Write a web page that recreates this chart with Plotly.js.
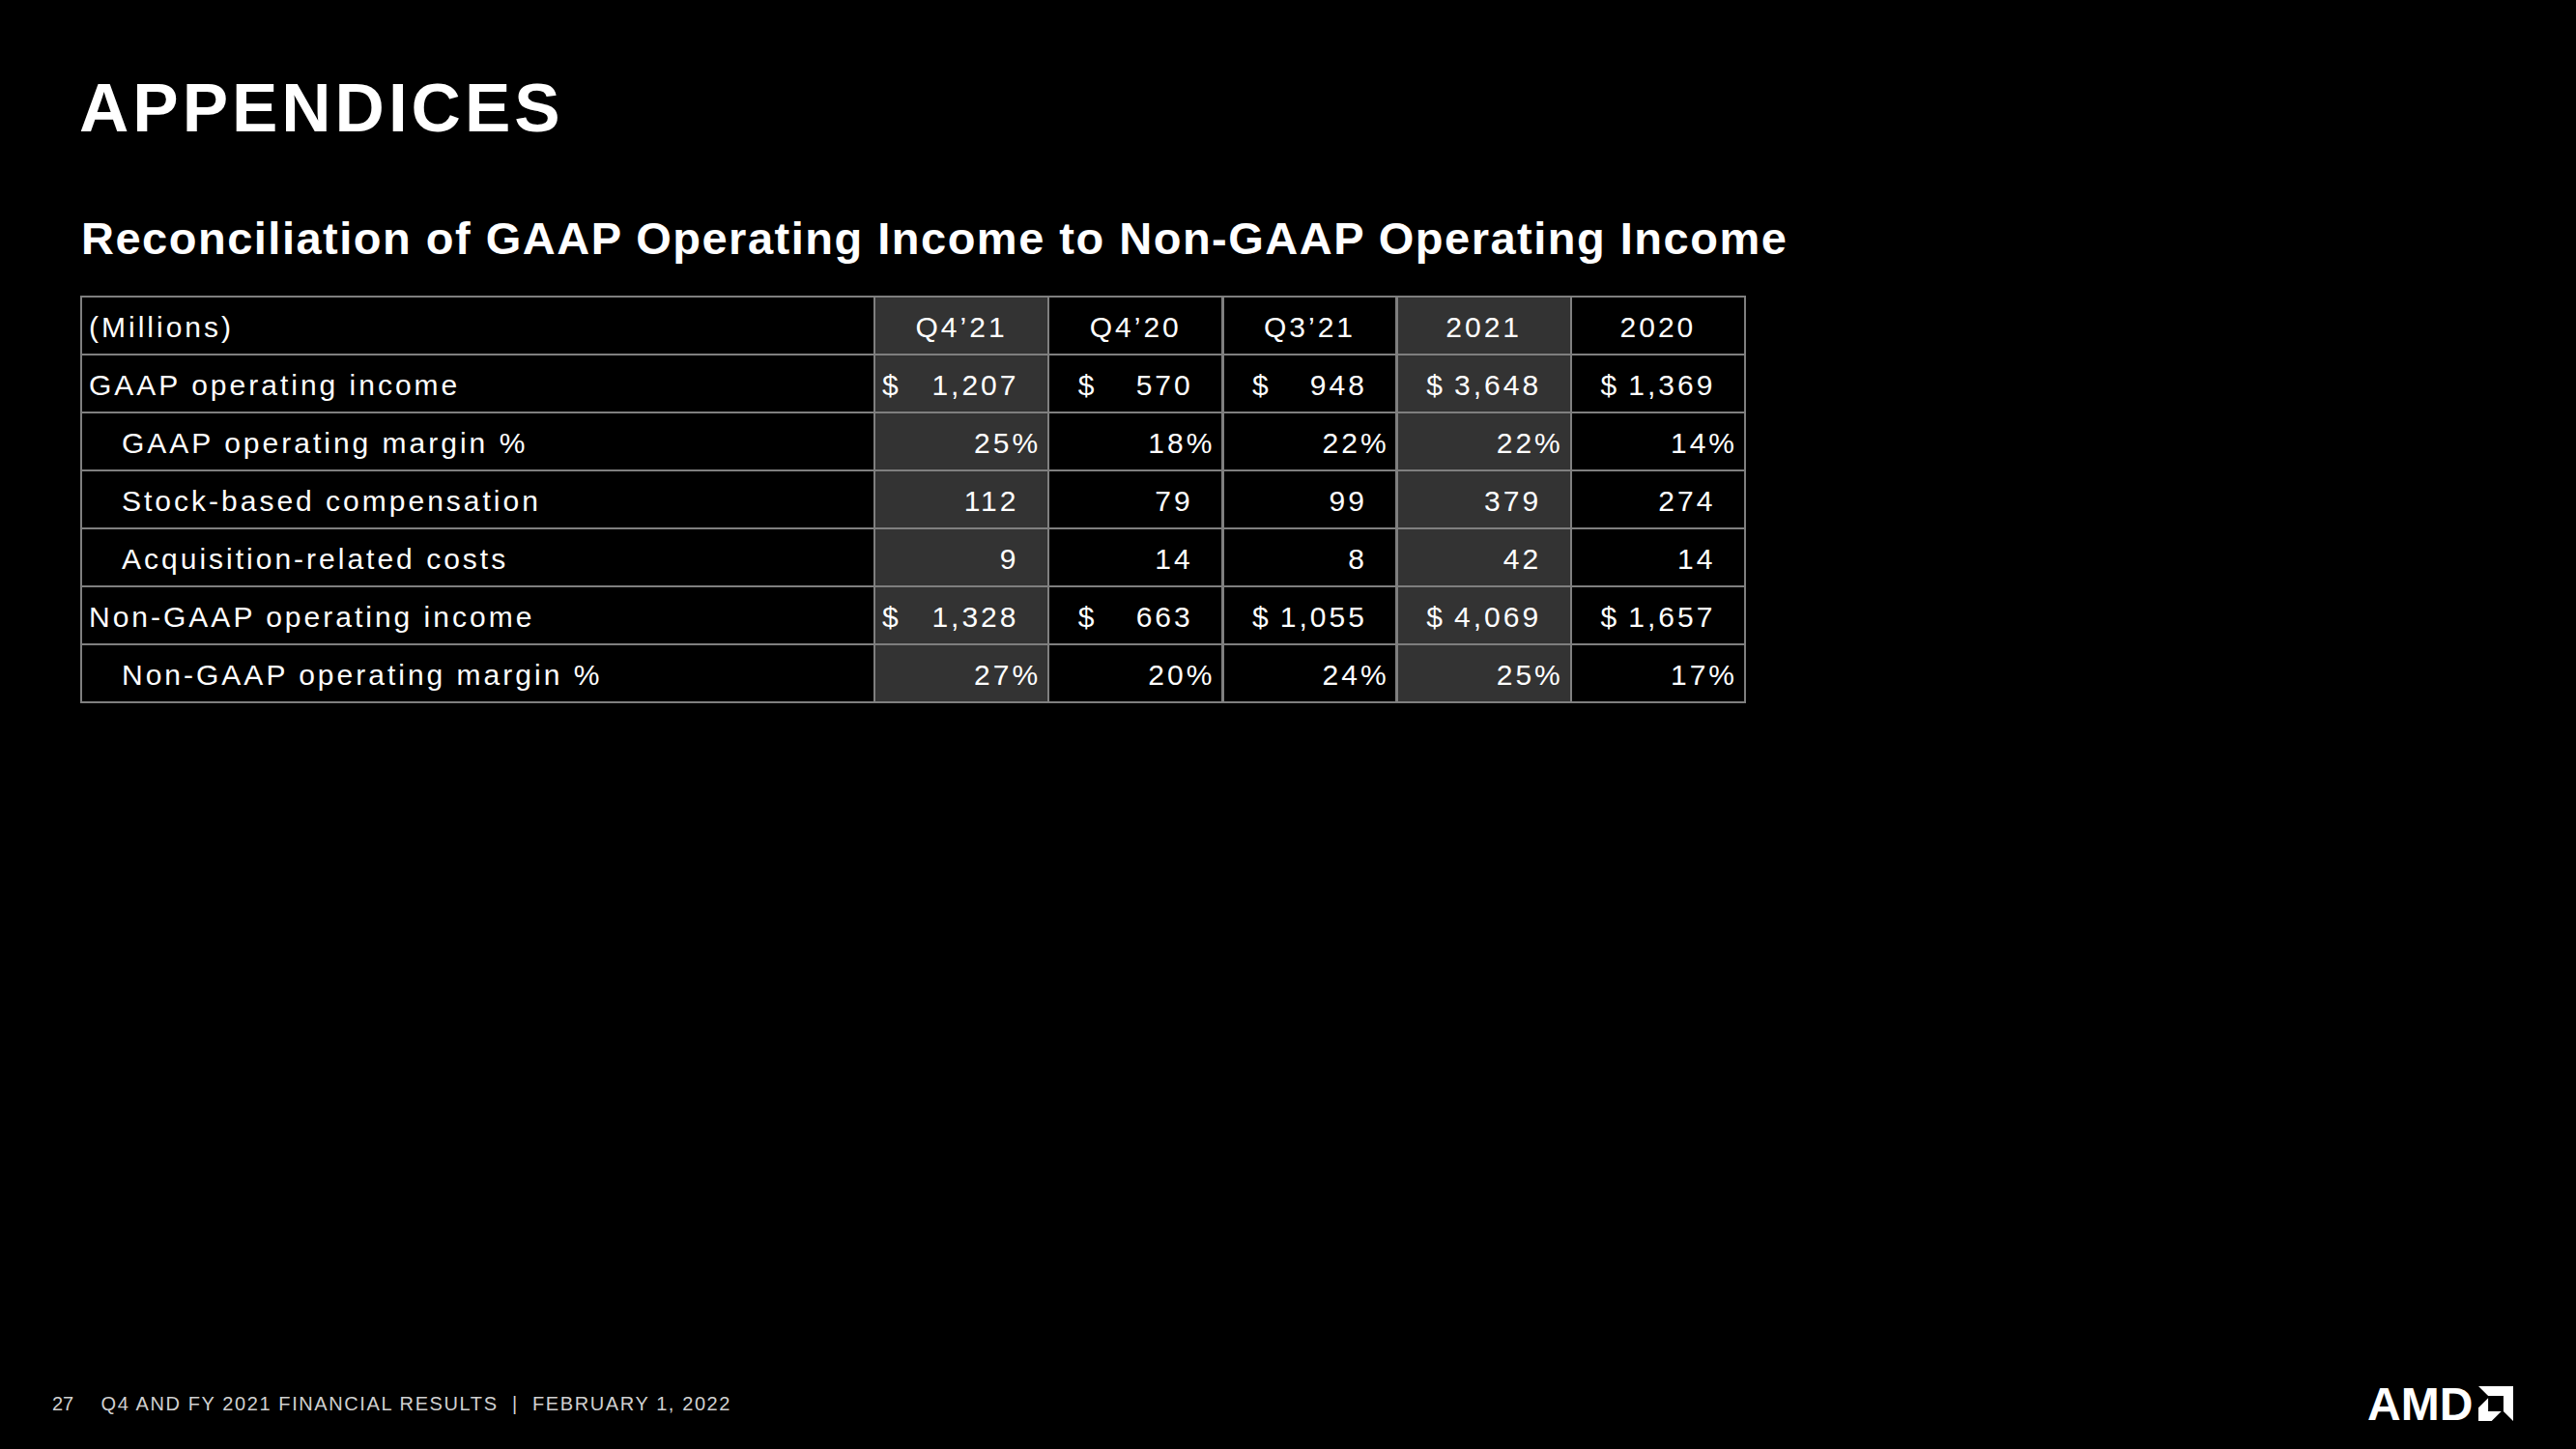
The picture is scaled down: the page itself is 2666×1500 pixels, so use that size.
<!DOCTYPE html>
<html>
<head>
<meta charset="utf-8">
<script src="https://cdn.plot.ly/plotly-3.0.1.min.js"></script>
<style>
  html, body { margin: 0; padding: 0; background: #000; }
  #chart { width: 2666px; height: 1500px; }
  .gtitle { letter-spacing: 4px; }
  g.annotation[data-index="0"] text { letter-spacing: 1.5px; }
  g.annotation[data-index="2"] text { letter-spacing: 1.6px; }
  .table text { letter-spacing: 3px; }
  .table .cell-text { transform: translateY(11px); }
</style>
</head>
<body>
<div id="chart"></div>
<script>
// ---- data ----
const periods = ["Q4\u201921", "Q4\u201920", "Q3\u201921", "2021", "2020"];
const rowLabels = [
  "GAAP operating income",
  "GAAP operating margin %",
  "Stock-based compensation",
  "Acquisition-related costs",
  "Non-GAAP operating income",
  "Non-GAAP operating margin %"
];
const rowIndent = [false, true, true, true, false, true];
const rowKind = ["dollar", "pct", "num", "num", "dollar", "pct"];
const gaapOperatingIncome = [1207, 570, 948, 3648, 1369];
const gaapOperatingMargin = [25, 18, 22, 22, 14];
const stockBasedComp = [112, 79, 99, 379, 274];
const acquisitionCosts = [9, 14, 8, 42, 14];
const nonGaapOperatingIncome = [1328, 663, 1055, 4069, 1657];
const nonGaapOperatingMargin = [27, 20, 24, 25, 17];
const highlightPeriods = ["Q4\u201921", "2021"];

// ---- build table ----
const rows = [gaapOperatingIncome, gaapOperatingMargin, stockBasedComp,
              acquisitionCosts, nonGaapOperatingIncome, nonGaapOperatingMargin];
const NB = "\u00a0";
function fmt(v, kind) {
  if (kind === "pct") return v + "%";
  return v.toLocaleString("en-US") + NB + NB;
}
const labelCol = rowLabels.map((l, i) => (rowIndent[i] ? NB + NB + NB : "") + l);
const valueCols = periods.map((p, c) => rows.map((r, i) => fmt(r[c], rowKind[i])));
const dollarCols = periods.map(() => rowKind.map(k => (k === "dollar" ? "$" : "")));

const GRAY = "#333333", BLACK = "#000000", LINE = "#7f7f7f";
const colFill = ["label"].concat(periods).map(p => highlightPeriods.includes(p) ? GRAY : BLACK);

const W = 2666, H = 1500;
const dom = { x: [84 / W, 1806 / W], y: [1 - 730 / H, 1 - 307 / H] };
const FONT = "'Liberation Sans', Arial, sans-serif";
const colWidths = [820, 180, 180, 180, 180, 180];

const mainTable = {
  type: "table",
  domain: dom,
  columnwidth: colWidths,
  header: {
    values: ["(Millions)"].concat(periods),
    align: ["left", "center", "center", "center", "center", "center"],
    fill: { color: colFill },
    line: { color: LINE, width: 2.5 },
    font: { family: FONT, size: 30, color: "#ffffff" },
    height: 60
  },
  cells: {
    values: [labelCol].concat(valueCols),
    align: ["left", "right", "right", "right", "right", "right"],
    fill: { color: colFill },
    line: { color: LINE, width: 2.5 },
    font: { family: FONT, size: 30, color: "#ffffff" },
    height: 60
  }
};
const dollarTable = {
  type: "table",
  domain: dom,
  columnwidth: colWidths,
  header: {
    values: ["", "", "", "", "", ""],
    fill: { color: "rgba(0,0,0,0)" },
    line: { color: "rgba(0,0,0,0)", width: 0 },
    font: { family: FONT, size: 30, color: "#ffffff" },
    height: 60
  },
  cells: {
    values: [rowKind.map(() => "")].concat(dollarCols),
    align: "left",
    prefix: ["", "", NB + NB, NB + NB, NB + NB, NB + NB],
    fill: { color: "rgba(0,0,0,0)" },
    line: { color: "rgba(0,0,0,0)", width: 0 },
    font: { family: FONT, size: 30, color: "#ffffff" },
    height: 60
  }
};

// AMD arrow mark (decoration), in paper units
function px(x) { return (x / W).toFixed(5); }
function py(y) { return (1 - y / H).toFixed(5); }
const L = 2565, T = 1435, S = 36;
function pt(fx, fy) { return px(L + fx * S) + "," + py(T + fy * S); }
const outerPath = "M" + pt(0, 0) + " L" + pt(1, 0) + " L" + pt(1, 1) + " L" + pt(0.72, 0.72) +
  " L" + pt(0.72, 0.28) + " L" + pt(0.28, 0.28) + " Z";
const innerPath = "M" + pt(0, 1) + " L" + pt(0, 0.62) + " L" + pt(0.28, 0.34) + " L" + pt(0.28, 0.72) +
  " L" + pt(0.66, 0.72) + " L" + pt(0.38, 1) + " Z";

const layout = {
  width: W, height: H,
  paper_bgcolor: "#000000", plot_bgcolor: "#000000",
  margin: { l: 0, r: 0, t: 0, b: 0, pad: 0 },
  showlegend: false,
  title: {
    text: "<b>APPENDICES</b>",
    x: 82 / W, xanchor: "left", xref: "paper",
    y: 1 - 111 / H, yanchor: "middle", yref: "paper",
    font: { family: FONT, size: 71, color: "#ffffff" }
  },
  annotations: [
    { text: "<b>Reconciliation of GAAP Operating Income to Non-GAAP Operating Income</b>",
      xref: "paper", yref: "paper", x: 967 / W, y: 1 - 247 / H, xanchor: "center", yanchor: "middle",
      showarrow: false, font: { family: FONT, size: 47, color: "#ffffff" } },
    { text: "27", xref: "paper", yref: "paper", x: 52 / W, y: 1 - 1453 / H, xanchor: "left", yanchor: "middle",
      showarrow: false, font: { family: FONT, size: 20, color: "#d0d0d0" } },
    { text: "Q4 AND FY 2021 FINANCIAL RESULTS" + NB + NB + "|" + NB + NB + "FEBRUARY 1, 2022",
      xref: "paper", yref: "paper", x: 431 / W, y: 1 - 1453 / H, xanchor: "center", yanchor: "middle",
      showarrow: false, font: { family: FONT, size: 20, color: "#d0d0d0" } },
    { text: "<b>AMD</b>", xref: "paper", yref: "paper", x: 2448 / W, y: 1 - 1453 / H, xanchor: "left", yanchor: "middle",
      showarrow: false, font: { family: FONT, size: 48, color: "#ffffff" } }
  ],
  shapes: [
    { type: "path", xref: "paper", yref: "paper", path: outerPath, fillcolor: "#ffffff", line: { width: 0 } },
    { type: "path", xref: "paper", yref: "paper", path: innerPath, fillcolor: "#ffffff", line: { width: 0 } }
  ]
};

Plotly.newPlot("chart", [mainTable, dollarTable], layout, { displayModeBar: false, staticPlot: true });
</script>
</body>
</html>
